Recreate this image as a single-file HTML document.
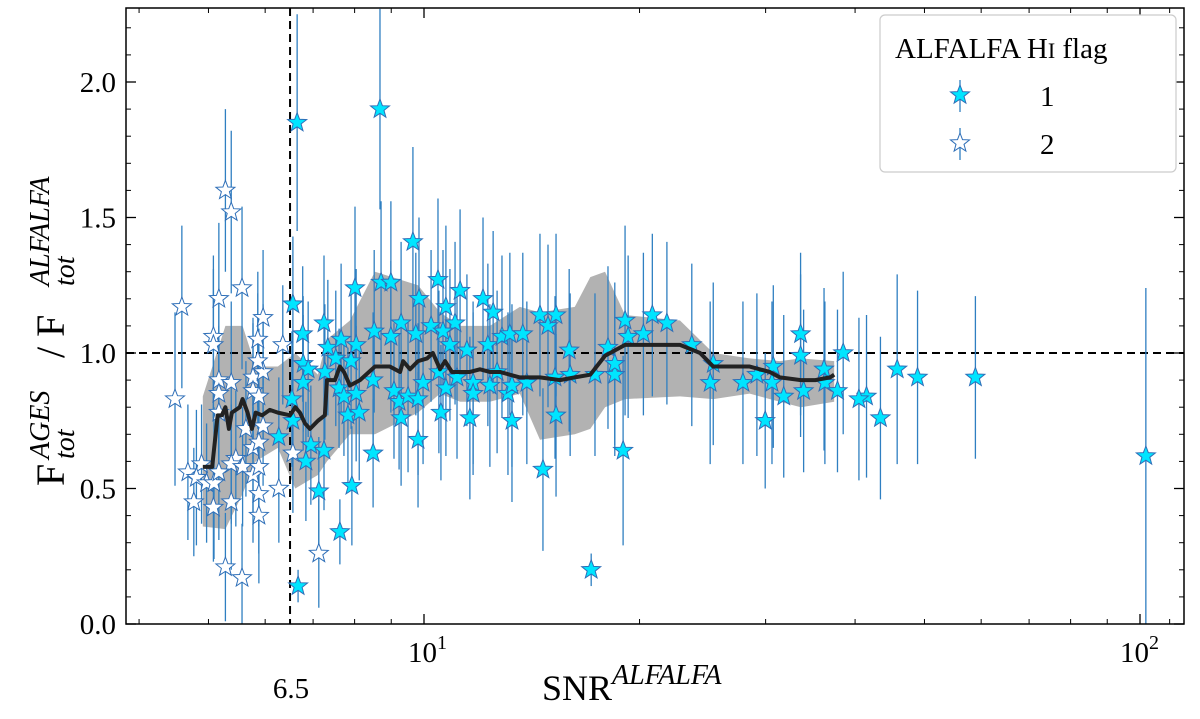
<!DOCTYPE html>
<html><head><meta charset="utf-8"><style>
body{margin:0;background:#fff}
svg text{font-family:"Liberation Serif","DejaVu Serif",serif;fill:#000}
</style></head><body>
<svg id="chart" width="1200" height="714" viewBox="0 0 1200 714" xmlns="http://www.w3.org/2000/svg">
<g id="band"></g>
<g id="refs"></g>
<g id="errs"></g>
<g id="pts"></g>
<g id="med"></g>
<g id="axes"></g>
<g id="legend"></g>
</svg>
<script>
// ---- data ----
const flag2Snr = [4.49,4.59,5.28,5.38,5.17,5.57,5.08,5.08,5.96,5.86,6.35,5.17,5.38,5.17,5.77,5.96,5.77,5.88,5.17,5.86,5.64,5.96,5.77,5.88,5.46,5.38,5.58,4.68,4.89,4.81,4.97,5.09,5.17,5.77,5.88,4.77,5.08,5.38,5.88,5.88,6.27,5.28,5.57,6.56,7.13];
const flag2Val = [0.83,1.17,1.60,1.52,1.20,1.24,1.06,1.03,1.13,1.05,1.03,0.90,0.89,0.85,0.91,0.93,0.86,0.84,0.78,0.97,0.72,0.73,0.65,0.67,0.61,0.59,0.58,0.56,0.59,0.54,0.52,0.52,0.56,0.55,0.58,0.45,0.43,0.45,0.48,0.40,0.50,0.21,0.17,0.63,0.26];
const flag2Err = [0.32,0.30,0.30,0.30,0.28,0.30,0.30,0.28,0.25,0.25,0.22,0.28,0.30,0.25,0.22,0.25,0.25,0.25,0.25,0.25,0.25,0.22,0.25,0.22,0.25,0.22,0.22,0.25,0.22,0.25,0.22,0.28,0.25,0.25,0.22,0.20,0.20,0.25,0.22,0.25,0.20,0.20,0.20,0.22,0.20];
const flag1Snr = [6.67,6.56,6.77,6.78,6.89,6.78,6.54,6.56,6.27,6.95,6.84,7.25,7.13,7.63,7.93,8.49,8.01,7.25,7.34,7.53,7.66,8.04,7.91,7.27,7.61,7.73,8.04,7.83,8.12,8.52,8.71,8.99,9.29,8.99,8.49,9.08,9.23,9.29,9.50,9.81,9.81,9.97,9.65,9.84,9.74,10.46,10.73,10.23,10.56,10.49,10.73,8.68,6.65,11.23,12.09,12.49,11.05,10.63,10.87,11.48,12.28,12.85,13.18,13.74,14.52,14.90,15.29,15.95,18.07,19.09,19.28,20.25,20.84,21.84,23.66,25.35,25.10,27.89,29.17,30.75,30.62,31.80,29.96,33.57,33.57,33.9,36.2,36.3,38.5,37.8,11.12,11.71,11.71,12.36,12.65,13.10,13.27,13.92,15.24,16.00,17.33,18.47,18.47,11.59,13.27,15.29,14.66,18.97,17.12,41.5,43.4,45.8,48.9,58.9,101.9,40.5];
const flag1Val = [0.14,1.18,1.07,0.96,0.94,0.89,0.83,0.75,0.69,0.66,0.60,0.64,0.49,0.34,0.51,0.63,1.24,1.11,1.02,0.98,1.05,1.03,0.97,0.93,0.87,0.84,0.85,0.77,0.78,1.08,1.26,1.26,1.11,1.06,0.90,0.86,0.82,0.76,0.84,0.83,0.68,0.89,1.41,1.20,1.07,1.27,1.17,1.10,0.78,0.93,0.87,1.90,1.85,1.23,1.20,1.15,1.11,1.08,1.03,1.01,1.03,1.06,1.07,1.07,1.14,1.10,1.14,1.01,1.02,1.12,1.06,1.07,1.14,1.11,1.03,0.96,0.89,0.89,0.92,0.95,0.89,0.84,0.75,1.07,0.99,0.86,0.94,0.89,1.00,0.86,0.91,0.89,0.85,0.88,0.93,0.85,0.88,0.89,0.91,0.92,0.92,0.92,0.96,0.76,0.75,0.77,0.57,0.64,0.20,0.84,0.76,0.94,0.91,0.91,0.62,0.83];
const flag1Err = [0.06,0.25,0.25,0.25,0.25,0.25,0.25,0.25,0.22,0.22,0.22,0.22,0.20,0.12,0.22,0.20,0.30,0.25,0.25,0.25,0.28,0.28,0.25,0.25,0.22,0.22,0.25,0.25,0.25,0.30,0.30,0.30,0.30,0.28,0.25,0.25,0.25,0.25,0.28,0.28,0.25,0.30,0.35,0.30,0.30,0.30,0.30,0.28,0.25,0.30,0.25,0.37,0.40,0.30,0.30,0.30,0.30,0.30,0.28,0.28,0.30,0.30,0.30,0.30,0.30,0.30,0.30,0.30,0.30,0.35,0.30,0.30,0.30,0.30,0.30,0.30,0.30,0.30,0.30,0.30,0.30,0.30,0.25,0.30,0.30,0.30,0.30,0.30,0.30,0.30,0.30,0.30,0.30,0.30,0.30,0.30,0.30,0.30,0.30,0.30,0.30,0.30,0.30,0.30,0.30,0.30,0.30,0.35,0.06,0.30,0.30,0.35,0.32,0.30,0.62,0.30];
const medSnr = [4.91,5.06,5.15,5.22,5.28,5.34,5.39,5.53,5.58,5.67,5.75,5.82,5.94,6.09,6.25,6.50,6.61,6.71,6.82,6.93,7.11,7.27,7.32,7.51,7.63,7.73,7.88,8.14,8.54,8.96,9.26,9.35,9.56,9.81,10.10,10.29,10.53,10.70,10.94,11.23,11.59,11.97,12.36,12.77,13.61,14.52,15.48,16.24,17.07,17.90,19.09,22.78,24.30,25.35,28.5,30.4,31.4,33.6,35.2,36.9,37.4];
const medVal = [0.58,0.58,0.77,0.77,0.80,0.72,0.78,0.80,0.83,0.78,0.72,0.78,0.77,0.79,0.78,0.77,0.80,0.78,0.74,0.72,0.75,0.77,0.90,0.90,0.95,0.93,0.88,0.90,0.95,0.95,0.93,0.97,0.94,0.97,0.98,1.00,0.94,0.97,0.93,0.93,0.93,0.94,0.93,0.93,0.91,0.91,0.90,0.91,0.92,0.99,1.03,1.03,1.00,0.95,0.95,0.93,0.91,0.90,0.90,0.91,0.92];
const bandSnr = [4.91,5.28,5.58,5.82,6.25,6.61,7.11,7.32,7.88,8.54,9.81,10.53,11.23,12.36,13.61,14.52,16.24,17.07,17.90,19.09,22.78,25.35,28.5,31.4,33.6,37.4];
const bandHi = [0.84,1.10,1.10,0.95,0.95,1.00,0.92,1.05,1.12,1.30,1.25,1.15,1.10,1.10,1.17,1.15,1.17,1.28,1.30,1.14,1.12,1.00,0.98,0.97,0.98,0.97];
const bandLo = [0.36,0.35,0.48,0.60,0.65,0.50,0.55,0.60,0.70,0.70,0.78,0.85,0.82,0.82,0.85,0.68,0.70,0.72,0.80,0.83,0.84,0.83,0.85,0.82,0.80,0.82];
const yTicks = [0.0,0.5,1.0,1.5,2.0];
const yTickLabels = ["0.0","0.5","1.0","1.5","2.0"];
const snrCut = 6.5;

// ---- axes ----
const L=126,R=1184,T=8,B=624;
const X=v=>424+(Math.log10(v)-1)*716;
const Y=v=>624-v*271;
const NS="http://www.w3.org/2000/svg";
function mk(tag,parent,attrs){const e=document.createElementNS(NS,tag);for(const k in attrs)e.setAttribute(k,attrs[k]);document.getElementById(parent).appendChild(e);return e;}

let bp=bandSnr.map((s,i)=>X(s)+","+Y(bandHi[i])).join(" ")+" "+bandSnr.slice().reverse().map((s,i)=>X(s)+","+Y(bandLo[bandLo.length-1-i])).join(" ");
let bandEl=mk('polygon','band',{points:bp,fill:'#aaaaaa',opacity:'0.9'});



let h=mk('line','refs',{x1:L,x2:R,y1:Y(1),y2:Y(1),stroke:'#000','stroke-width':2,'stroke-dasharray':'8,5'});


let v=mk('line','refs',{x1:X(snrCut),x2:X(snrCut),y1:T,y2:B,stroke:'#000','stroke-width':2,'stroke-dasharray':'8,5'});



function star(cx,cy,r){let p=[];for(let i=0;i<10;i++){const a=-Math.PI/2+i*Math.PI/5;const rr=i%2?r*0.42:r;p.push((cx+rr*Math.cos(a)).toFixed(1)+","+(cy+rr*Math.sin(a)).toFixed(1));}return p.join(" ");}

function drawSeries(snr,val,err,fill,name){
  snr.forEach((s,i)=>{
    const x=X(s);
    let e=mk('line','errs',{x1:x,x2:x,y1:Y(Math.max(0,val[i]-err[i])),y2:Y(val[i]+err[i]),stroke:'#2f7fc1','stroke-width':1.3});
    
    
    let p=mk('polygon','pts',{points:star(x,Y(val[i]),10),fill:fill,stroke:'#2f6fb8','stroke-width':1});
    
    
  });
}
drawSeries(flag2Snr,flag2Val,flag2Err,'#ffffff','flag2');
drawSeries(flag1Snr,flag1Val,flag1Err,'#00e5ff','flag1');

let ml=mk('polyline','med',{points:medSnr.map((s,i)=>X(s)+","+Y(medVal[i])).join(" "),fill:'none',stroke:'#222','stroke-width':4,'stroke-linejoin':'round'});



let fr=mk('rect','axes',{x:L,y:T,width:R-L,height:B-T,fill:'none',stroke:'#000','stroke-width':1.5});


yTicks.forEach((t,i)=>{
  const y=Y(t);
  mk('line','axes',{x1:L,x2:L+10,y1:y,y2:y,stroke:'#000','stroke-width':1.3});
  mk('line','axes',{x1:R,x2:R-10,y1:y,y2:y,stroke:'#000','stroke-width':1.3});
  let tx=mk('text','axes',{x:L-10,y:y+10,'text-anchor':'end','font-size':29});
  tx.textContent=yTickLabels[i];
  
  
});
for(let t=0.1;t<2.27;t+=0.1){const y=Y(t);mk('line','axes',{x1:L,x2:L+5,y1:y,y2:y,stroke:'#000','stroke-width':1});mk('line','axes',{x1:R,x2:R-5,y1:y,y2:y,stroke:'#000','stroke-width':1});}
const minors=[4,5,6,7,8,9,20,30,40,50,60,70,80,90,110];
minors.forEach(m=>{const x=X(m);mk('line','axes',{x1:x,x2:x,y1:B,y2:B-5,stroke:'#000','stroke-width':1});mk('line','axes',{x1:x,x2:x,y1:T,y2:T+5,stroke:'#000','stroke-width':1});});
[10,100].forEach(m=>{const x=X(m);mk('line','axes',{x1:x,x2:x,y1:B,y2:B-10,stroke:'#000','stroke-width':1.3});mk('line','axes',{x1:x,x2:x,y1:T,y2:T+10,stroke:'#000','stroke-width':1.3});});

const ax=document.getElementById('axes');
ax.insertAdjacentHTML('beforeend',
 '<text x="408" y="662" font-size="29">10<tspan font-size="20" dy="-13">1</tspan></text>'+
 '<text x="1120" y="662" font-size="29">10<tspan font-size="20" dy="-13">2</tspan></text>'+
 '<text x="291" y="698" font-size="29" text-anchor="middle">6.5</text>'+
 '<text x="542" y="700" font-size="36">SNR<tspan font-size="28" font-style="italic" dy="-16">ALFALFA</tspan></text>'+
 '<g transform="translate(64,486) rotate(-90)">'+
 '<text x="0" y="0" font-size="40">F</text>'+
 '<text x="27" y="-15" font-size="28" font-style="italic">AGES</text>'+
 '<text x="27" y="10" font-size="28" font-style="italic">tot</text>'+
 '<text x="128" y="0" font-size="40">/ F</text>'+
 '<text x="200" y="-15" font-size="28" font-style="italic">ALFALFA</text>'+
 '<text x="200" y="10" font-size="28" font-style="italic">tot</text></g>');
const lg=document.getElementById('legend');
lg.insertAdjacentHTML('beforeend',
 '<rect x="880" y="15" width="296" height="157" rx="5" fill="#fff" stroke="#ccc" stroke-width="1.2"/>'+
 '<text x="895" y="58" font-size="29">ALFALFA H<tspan font-size="22">I</tspan> flag</text>'+
 '<line x1="960" x2="960" y1="80" y2="112" stroke="#2f7fc1" stroke-width="1.3"/>'+
 '<polygon points="'+star(960,95,10)+'" fill="#00e5ff" stroke="#2f6fb8"/>'+
 '<text x="1040" y="106" font-size="29">1</text>'+
 '<line x1="960" x2="960" y1="128" y2="160" stroke="#2f7fc1" stroke-width="1.3"/>'+
 '<polygon points="'+star(960,143,10)+'" fill="#fff" stroke="#2f6fb8"/>'+
 '<text x="1040" y="154" font-size="29">2</text>');
</script>
</body></html>
